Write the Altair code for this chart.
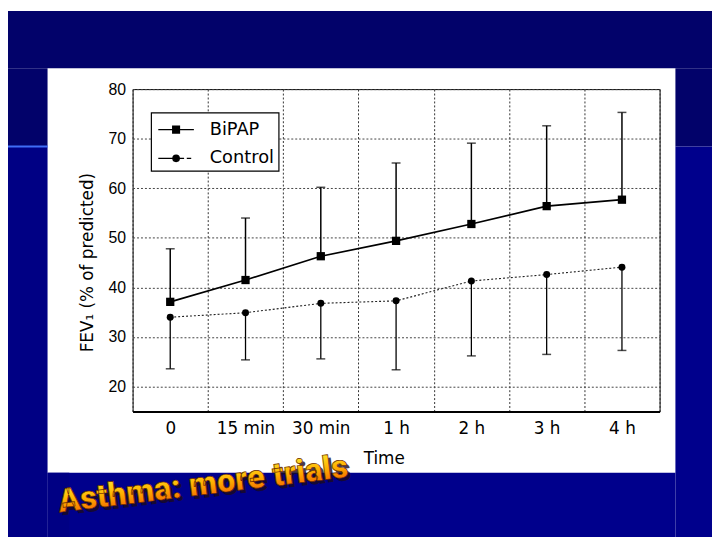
import altair as alt
import pandas as pd

# ---------------- data ----------------
times = ["0", "15 min", "30 min", "1 h", "2 h", "3 h", "4 h"]
bipap_mean = [37.1, 41.5, 46.3, 49.4, 52.8, 56.4, 57.7]
bipap_upper = [47.8, 54.0, 60.2, 65.1, 69.1, 72.6, 75.3]
control_mean = [34.0, 34.9, 36.8, 37.3, 41.3, 42.6, 44.1]
control_lower = [23.6, 25.4, 25.6, 23.4, 26.2, 26.5, 27.3]
series = ["BiPAP", "Control"]
y_ticks = [20, 30, 40, 50, 60, 70, 80]
y_domain = [15, 80]
title_text = "Asthma: more trials"
y_title = "FEV\u2081 (% of predicted)"
x_title = "Time"

rows = []
for i, t in enumerate(times):
    rows.append({"time": t, "series": "BiPAP", "mean": bipap_mean[i], "err": bipap_upper[i]})
    rows.append({"time": t, "series": "Control", "mean": control_mean[i], "err": control_lower[i]})
df = pd.DataFrame(rows)

X = alt.X(
    "time:N",
    sort=times,
    scale=alt.Scale(paddingInner=0, paddingOuter=0),
    axis=alt.Axis(
        title=x_title, labelAngle=0, ticks=False, grid=True, tickBand="extent",
        gridDash=[2, 2], gridColor="#333333", gridWidth=1,
        domainColor="black", domainWidth=2,
        labelFont="DejaVu Sans", labelFontSize=17, labelColor="black", labelPadding=9,
        titleFont="DejaVu Sans", titleFontSize=17, titleFontWeight="normal", titleColor="black",
        titleX=254, titleY=48, titleBaseline="middle", titleAlign="center",
    ),
)
Y = alt.Y(
    "mean:Q",
    scale=alt.Scale(domain=y_domain, nice=False, zero=False),
    axis=alt.Axis(
        values=y_ticks, title=y_title, ticks=False, domain=False, grid=True,
        gridDash=[2, 2], gridColor="#444444", gridWidth=1,
        labelFont="Liberation Sans", labelFontSize=16, labelColor="black", labelPadding=7,
        titleFont="DejaVu Sans", titleFontSize=17, titleFontWeight="normal", titleColor="black",
        titleX=-46, titleY=175, titleAngle=270, titleBaseline="middle", titleAlign="center",
    ),
)

base = alt.Chart(df)
bip = base.transform_filter(alt.datum.series == "BiPAP")
con = base.transform_filter(alt.datum.series == "Control")

line_b = bip.mark_line(color="black", strokeWidth=1.7).encode(x=X, y=Y)
line_c = con.mark_line(color="#222222", strokeWidth=1.1, strokeDash=[2, 2]).encode(x=X, y=Y)
err_b = bip.mark_rule(color="black", strokeWidth=1.5).encode(x=X, y=Y, y2="err:Q")
err_c = con.mark_rule(color="black", strokeWidth=1.3).encode(x=X, y=Y, y2="err:Q")
cap_b = bip.mark_tick(color="black", size=9, thickness=1.5).encode(x=X, y=alt.Y("err:Q"))
cap_c = con.mark_tick(color="black", size=9, thickness=1.5).encode(x=X, y=alt.Y("err:Q"))
pt_b = bip.mark_point(shape="square", filled=True, color="black", size=70, opacity=1).encode(x=X, y=Y)
pt_c = con.mark_point(shape="circle", filled=True, color="black", size=50, opacity=1).encode(x=X, y=Y)

# ---------------- legend (drawn as marks) ----------------
one = alt.Data(values=[{}])
path_sq = "M-2,0H2M-0.38,-0.38H0.38V0.38H-0.38Z"
path_ci = "M-2,0H-0.2M0.2,0H0.9M1.2,0H1.7M0.36,0A0.36,0.36,0,1,1,-0.36,0A0.36,0.36,0,1,1,0.36,0Z"
legend_paths = [path_sq, path_ci]
legend_rows_y = [41, 70]

legend_parts = [
    alt.Chart(one).mark_rect(fill="white", stroke="black", strokeWidth=1.2).encode(
        x=alt.value(19), x2=alt.value(148), y=alt.value(24), y2=alt.value(83)
    )
]
for name, path, ly in zip(series, legend_paths, legend_rows_y):
    legend_parts.append(
        alt.Chart(one).mark_point(
            shape=path, filled=True, fill="black", stroke="black", strokeWidth=1.3,
            size=324, opacity=1,
        ).encode(x=alt.value(44), y=alt.value(ly))
    )
    legend_parts.append(
        alt.Chart(one).mark_text(
            text=name, font="DejaVu Sans", fontSize=18, color="black",
            align="left", baseline="middle",
        ).encode(x=alt.value(78), y=alt.value(ly))
    )


def box(x, x2, y, y2, color):
    return alt.Chart(one).mark_rect(color=color).encode(
        x=alt.value(x), x2=alt.value(x2), y=alt.value(y), y2=alt.value(y2)
    )


dark = "#02026a"
light = "#00008c"
deco = [
    box(-126, 586, -79, -21, dark),
    box(-126, -86, -21, 58, dark),
    box(549, 586, -21, 58, dark),
    box(-126, -86, 58, 453, "#000084"),
    box(549, 586, 58, 453, light),
    box(-86, 549, 388, 453, light),
    box(-86, -64, 388, 453, "#000084"),
    alt.Chart(one).mark_rule(color="#3f6df5", strokeWidth=2).encode(
        x=alt.value(-126), x2=alt.value(-86), y=alt.value(58)
    ),
]

grad = alt.LinearGradient(
    gradient="linear",
    stops=[
        alt.GradientStop(color="#fff030", offset=0),
        alt.GradientStop(color="#ffb000", offset=0.5),
        alt.GradientStop(color="#f05000", offset=1),
    ],
    x1=0, x2=0, y1=0, y2=1,
)
title_font = "Roboto"
shadow = alt.Chart(one).mark_text(
    text=title_text, font=title_font,
    fontWeight=900, fontSize=33, angle=353, align="left", baseline="alphabetic",
    color="#1a0a20", opacity=0.8,
).encode(x=alt.value(-71), y=alt.value(431))
title = alt.Chart(one).mark_text(
    text=title_text, font=title_font,
    fontWeight=900, fontSize=33, angle=353, align="left", baseline="alphabetic",
    fill=grad, stroke="#6a2a00", strokeWidth=0.7,
).encode(x=alt.value(-74), y=alt.value(428))

chart = alt.layer(
    line_b, line_c, err_b, err_c, cap_b, cap_c, pt_b, pt_c,
    *legend_parts, *deco, shadow, title,
).properties(
    width=533, height=326,
    padding={"left": 126, "top": 79, "right": 53, "bottom": 127},
    autosize=alt.AutoSizeParams(type="none"),
).configure(background="white").configure_view(stroke="black", strokeWidth=1)

chart.save("out.html", embed_options={"renderer": "svg", "actions": False})
